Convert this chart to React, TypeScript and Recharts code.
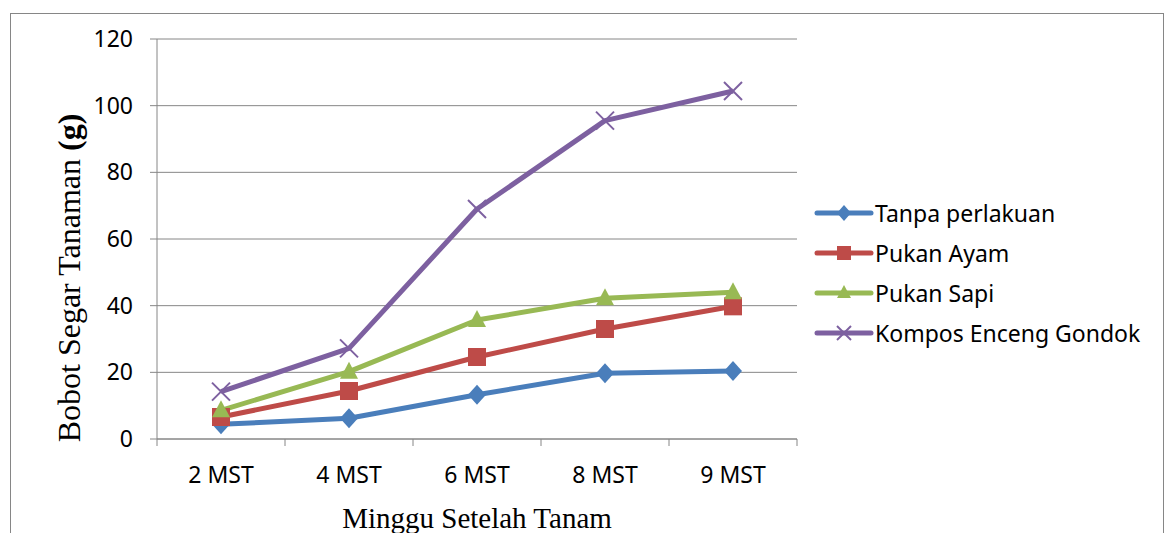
import React from 'react';
import { LineChart, Line, XAxis, YAxis, CartesianGrid, Legend, Label } from 'recharts';

const categories = ['2 MST', '4 MST', '6 MST', '8 MST', '9 MST'];
const tanpaPerlakuan = [4.4, 6.2, 13.3, 19.7, 20.4];
const pukanAyam = [6.6, 14.4, 24.6, 33.0, 39.8];
const pukanSapi = [8.6, 20.2, 35.7, 42.2, 44.0];
const komposEncengGondok = [14.2, 27.2, 69.0, 95.5, 104.4];
const yTicks = [0, 20, 40, 60, 80, 100, 120];

type Shape = 'diamond' | 'square' | 'triangle' | 'cross';

const series: { key: string; name: string; color: string; shape: Shape }[] = [
  { key: 'tanpa', name: 'Tanpa perlakuan', color: '#4A7EBB', shape: 'diamond' },
  { key: 'ayam', name: 'Pukan Ayam', color: '#BE4B48', shape: 'square' },
  { key: 'sapi', name: 'Pukan Sapi', color: '#98B954', shape: 'triangle' },
  { key: 'kompos', name: 'Kompos Enceng Gondok', color: '#7D60A0', shape: 'cross' },
];

const data = categories.map((week, i) => ({
  week,
  tanpa: tanpaPerlakuan[i],
  ayam: pukanAyam[i],
  sapi: pukanSapi[i],
  kompos: komposEncengGondok[i],
}));

const AXIS = '#868686';
const TICK_FONT = '"Noto Sans", sans-serif';
const TITLE_FONT = '"Liberation Serif", "Times New Roman", serif';

const marker = (shape: Shape, x: number, y: number, color: string, s: number, key?: string) => {
  if (shape === 'diamond') {
    return <path key={key} d={`M${x},${y - s - 1} L${x + s},${y} L${x},${y + s + 1} L${x - s},${y} Z`} fill={color} />;
  }
  if (shape === 'square') {
    return <rect key={key} x={x - s} y={y - s} width={s * 2} height={s * 2} fill={color} />;
  }
  if (shape === 'triangle') {
    return <path key={key} d={`M${x},${y - s - 1} L${x + s},${y + s - 2} L${x - s},${y + s - 2} Z`} fill={color} />;
  }
  return (
    <g key={key} stroke={color} strokeWidth={2}>
      <line x1={x - s} y1={y - s} x2={x + s} y2={y + s} />
      <line x1={x - s} y1={y + s} x2={x + s} y2={y - s} />
    </g>
  );
};

const makeDot = (shape: Shape, color: string) => (props: any) => {
  const { cx, cy, index } = props;
  if (cx == null || cy == null) return <g key={`d-${index}`} />;
  return marker(shape, cx, cy, color, 9, `d-${shape}-${index}`);
};

// category tick marks sit on the band edges, labels in the band centres
const XTick = (props: any) => {
  const { x, y, payload, index } = props;
  const band = props.width ? props.width / categories.length : 128;
  return (
    <g>
      <line x1={x - band / 2} y1={y} x2={x - band / 2} y2={y + 7} stroke={AXIS} />
      {index === categories.length - 1 && (
        <line x1={x + band / 2} y1={y} x2={x + band / 2} y2={y + 7} stroke={AXIS} />
      )}
      <text x={x} y={y + 44} textAnchor="middle" fontSize={23} fontFamily={TICK_FONT} fill="#000">
        {payload.value}
      </text>
    </g>
  );
};

const LegendContent = () => (
  <div style={{ fontFamily: TICK_FONT, fontSize: 23, color: '#000', lineHeight: 1 }}>
    {series.map((s) => (
      <div key={s.key} style={{ display: 'flex', alignItems: 'center', height: 40 }}>
        <svg width={60} height={24} style={{ marginRight: 1 }}>
          <line x1={3} y1={12} x2={57} y2={12} stroke={s.color} strokeWidth={5} strokeLinecap="round" />
          {marker(s.shape, 30, 12, s.color, 7)}
        </svg>
        <span>{s.name}</span>
      </div>
    ))}
  </div>
);

export default function App() {
  return (
    <div style={{ position: 'relative', width: 1165, height: 533, overflow: 'hidden', background: '#fff' }}>
      <style>{'body{margin:0}'}</style>
      <div
        style={{
          position: 'absolute',
          left: 10,
          top: 13,
          width: 1152,
          height: 600,
          border: `1px solid ${AXIS}`,
        }}
      />
      <LineChart
        width={1165}
        height={533}
        data={data}
        margin={{ top: 39, right: 368, bottom: 0, left: 0 }}
        style={{ position: 'absolute', left: 0, top: 0 }}
      >
        <CartesianGrid vertical={false} stroke={AXIS} strokeWidth={1} />
        <XAxis
          dataKey="week"
          scale="band"
          height={94}
          stroke={AXIS}
          tickLine={false}
          tickSize={0}
          tickMargin={0}
          interval={0}
          tick={<XTick />}
        >
          <Label
            content={() => (
              <text x={477} y={528} textAnchor="middle" fontSize={29} fontFamily={TITLE_FONT} fill="#000">
                Minggu Setelah Tanam
              </text>
            )}
          />
        </XAxis>
        <YAxis
          width={157}
          domain={[0, 120]}
          ticks={yTicks}
          interval={0}
          stroke={AXIS}
          tickSize={7}
          tickMargin={17}
          tick={{ fontSize: 23, fontFamily: TICK_FONT, fill: '#000' }}
        >
          <Label
            content={() => (
              <text
                x={80}
                y={278}
                transform="rotate(-90 80 278)"
                textAnchor="middle"
                fontSize={32}
                fontFamily={TITLE_FONT}
                fill="#000"
              >
                Bobot Segar Tanaman <tspan fontWeight="bold">(g)</tspan>
              </text>
            )}
          />
        </YAxis>
        <Legend
          layout="horizontal"
          verticalAlign="middle"
          content={<LegendContent />}
          wrapperStyle={{ position: 'absolute', left: 814, top: 193, width: 345 }}
        />
        {series.map((s) => (
          <Line
            key={s.key}
            type="linear"
            dataKey={s.key}
            name={s.name}
            stroke={s.color}
            strokeWidth={5}
            strokeLinejoin="round"
            dot={makeDot(s.shape, s.color)}
            activeDot={false}
            isAnimationActive={false}
          />
        ))}
      </LineChart>
    </div>
  );
}
